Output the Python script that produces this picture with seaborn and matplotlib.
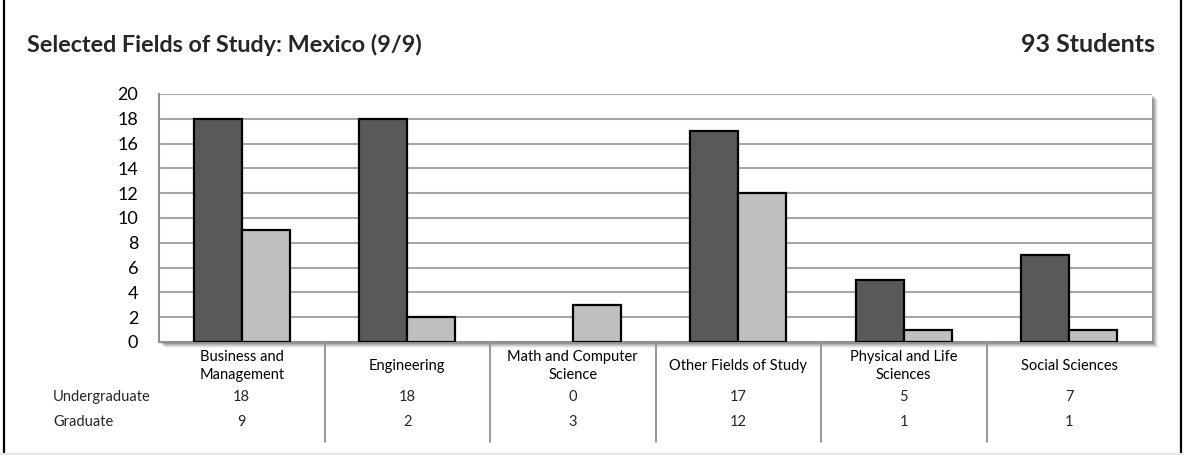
import matplotlib
matplotlib.use("Agg")
import matplotlib.pyplot as plt
import matplotlib.transforms as mtransforms
from matplotlib.patches import Rectangle
from matplotlib.lines import Line2D
import seaborn as sns
import pandas as pd

categories = ["Business and\nManagement", "Engineering", "Math and Computer\nScience",
              "Other Fields of Study", "Physical and Life\nSciences", "Social Sciences"]
undergraduate = [18, 18, 0, 17, 5, 7]
graduate = [9, 2, 3, 12, 1, 1]
series_names = ["Undergraduate", "Graduate"]
title_text = "Selected Fields of Study: Mexico (9/9)"
total_text = "93 Students"
y_ticks = list(range(0, 21, 2))

df = pd.DataFrame({
    "field": categories * 2,
    "count": undergraduate + graduate,
    "level": [series_names[0]] * len(categories) + [series_names[1]] * len(categories),
})

sns.set_theme(style="white")
plt.rcParams["font.family"] = ["Lato", "DejaVu Sans"]

W, H = 1184, 455
fig = plt.figure(figsize=(W / 100, H / 100), dpi=100)
fig.patch.set_facecolor("white")

L, R, T, B = 159, 1152, 94, 342
ax = fig.add_axes([L / W, 1 - B / H, (R - L) / W, (B - T) / H])
ax.set_zorder(2)

# drop shadow behind plot area
for k, a in [(6, 0.05), (5, 0.07), (4, 0.09), (3, 0.12), (2, 0.15)]:
    fig.patches.append(Rectangle(((L + k) / W, 1 - (B + k) / H), (R - L) / W, (B - T) / H,
                                 transform=fig.transFigure, facecolor="black", alpha=a,
                                 edgecolor="none", zorder=0))

sns.barplot(data=df, x="field", y="count", hue="level", order=categories,
            hue_order=series_names, palette=["#595959", "#BFBFBF"], saturation=1,
            width=0.58, edgecolor="black", linewidth=1.6, legend=False, ax=ax, zorder=3)
for p in ax.patches:
    if p.get_height() == 0:
        p.set_visible(False)

ax.set_ylim(0, 20)
ax.set_xlim(-0.5, len(categories) - 0.5)
ax.set_yticks(y_ticks)
ax.yaxis.grid(True, color="#A6A6A6", linewidth=1.5, zorder=0)
ax.set_axisbelow(True)
ax.set_xlabel("")
ax.set_ylabel("")
for s in ["top", "right"]:
    ax.spines[s].set_visible(False)
for s in ["left", "bottom"]:
    ax.spines[s].set_color("#909090")
    ax.spines[s].set_linewidth(1.5)
ax.tick_params(axis="y", length=5, width=1.5, color="#909090", labelsize=13, pad=10,
               labelcolor="black")
ax.tick_params(axis="x", length=0, pad=17, labelsize=10.5, labelcolor="black")
for lbl in ax.get_xticklabels():
    lbl.set_va("center")
    lbl.set_linespacing(1.35)

# data table below the chart
trans = mtransforms.blended_transform_factory(ax.transData, ax.transAxes)
h = B - T
for i in range(len(categories) - 1):
    ax.add_line(Line2D([i + 0.5, i + 0.5], [0, (B - 442) / h], transform=trans,
                       color="#909090", linewidth=1.3, clip_on=False))
row_y = [(B - 397) / h, (B - 422) / h]
for vals, y, name in zip([undergraduate, graduate], row_y, series_names):
    for i, v in enumerate(vals):
        ax.text(i, y, str(v), transform=trans, ha="center", va="center", fontsize=10.5)
    fig.text(53 / W, 1 - (B - y * h) / H, name, ha="left", va="center", fontsize=10.5)

fig.text(27 / W, 1 - 45 / H, title_text, ha="left", va="center", fontsize=16.8,
         fontweight="bold")
fig.text(1155 / W, 1 - 45 / H, total_text, ha="right", va="center", fontsize=18,
         fontweight="bold")

# frame lines
fig.add_artist(Line2D([3.5 / W, 3.5 / W], [1 - 453 / H, 1], transform=fig.transFigure,
                      color="black", linewidth=1.6))
fig.add_artist(Line2D([1180.5 / W, 1180.5 / W], [1 - 453 / H, 1], transform=fig.transFigure,
                      color="black", linewidth=1.6))
fig.add_artist(Line2D([0, 1], [1 - 454 / H, 1 - 454 / H], transform=fig.transFigure,
                      color="#E6E6E6", linewidth=1.5))

fig.savefig("out.png", dpi=100, facecolor="white")
